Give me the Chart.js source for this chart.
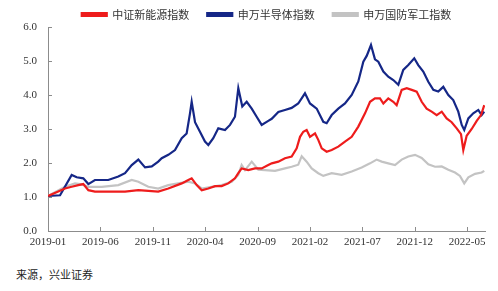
<!DOCTYPE html>
<html lang="zh">
<head>
<meta charset="UTF-8">
<title>指数走势</title>
<script src="https://cdn.jsdelivr.net/npm/chart.js"></script>
<style>
  body { margin: 0; background: #fff; }
  #wrap { position: absolute; left: 0; top: 0; width: 498px; height: 262px; }
  #source { position: absolute; left: 16px; top: 266px; font: 11px "Noto Sans CJK SC", sans-serif; color: #222; }
</style>
</head>
<body>
<div id="wrap"><canvas id="myChart" width="498" height="262"></canvas></div>
<div id="source">来源，兴业证券</div>
<script>
// x = months since 2019-01
var seriesNames = ['中证新能源指数', '申万半导体指数', '申万国防军工指数'];

var xNew = [0, 0.98, 1.62, 2.26, 2.89, 3.37, 3.85, 4.48, 6.08, 7.35, 8.62, 10.52, 11.48, 12.76, 13.39, 13.71, 14.19, 14.67, 15.3, 15.94, 16.57, 17.2, 17.84, 18.16, 18.48, 19.11, 19.75, 20.39, 21.02, 21.35, 21.98, 22.61, 23.25, 23.73, 24.05, 24.36, 24.68, 25.0, 25.48, 25.79, 26.12, 26.59, 27.07, 27.7, 28.34, 28.98, 29.61, 30.25, 30.73, 31.2, 31.68, 32.0, 32.47, 32.95, 33.27, 33.75, 34.23, 34.71, 35.18, 35.66, 36.13, 36.61, 37.09, 37.57, 38.04, 38.52, 39.0, 39.41, 39.63, 39.95, 40.43, 40.91, 41.32, 41.63];
var yNew = [1.03, 1.16, 1.25, 1.3, 1.35, 1.38, 1.2, 1.16, 1.16, 1.16, 1.2, 1.16, 1.25, 1.4, 1.5, 1.55, 1.35, 1.2, 1.25, 1.32, 1.32, 1.4, 1.55, 1.7, 1.84, 1.79, 1.84, 1.84, 1.94, 1.99, 2.04, 2.14, 2.19, 2.43, 2.77, 2.92, 2.97, 2.77, 2.87, 2.68, 2.43, 2.33, 2.38, 2.48, 2.63, 2.77, 3.07, 3.46, 3.8, 3.9, 3.9, 3.75, 3.9, 3.8, 3.7, 4.15, 4.2, 4.15, 4.1, 3.8, 3.6, 3.51, 3.41, 3.51, 3.31, 3.2, 3.02, 2.85, 2.38, 2.8, 3.0, 3.24, 3.41, 3.7];

var xSemi = [0, 1.15, 2.26, 2.74, 3.37, 3.85, 4.48, 5.75, 6.71, 7.35, 7.99, 8.62, 9.26, 9.9, 10.52, 10.85, 11.48, 12.12, 12.76, 13.23, 13.55, 13.71, 14.03, 14.5, 14.98, 15.3, 15.77, 16.25, 16.89, 17.37, 17.84, 18.16, 18.54, 18.96, 19.44, 19.91, 20.39, 21.02, 21.35, 21.98, 22.61, 23.25, 23.88, 24.52, 25.0, 25.64, 26.27, 26.59, 27.07, 27.7, 28.34, 28.98, 29.61, 30.09, 30.41, 30.82, 31.2, 31.52, 32.0, 32.47, 32.95, 33.43, 33.9, 34.38, 34.95, 35.33, 35.81, 36.29, 36.77, 37.24, 37.72, 38.2, 38.67, 39.15, 39.48, 39.72, 40.11, 40.58, 41.06, 41.38, 41.63];
var ySemi = [1.03, 1.05, 1.65, 1.58, 1.55, 1.38, 1.5, 1.5, 1.6, 1.7, 1.94, 2.1, 1.87, 1.9, 2.04, 2.14, 2.24, 2.38, 2.73, 2.87, 3.46, 3.8, 3.2, 2.92, 2.63, 2.53, 2.73, 3.02, 2.97, 3.12, 3.36, 4.2, 3.66, 3.8, 3.6, 3.36, 3.12, 3.24, 3.3, 3.5, 3.56, 3.62, 3.75, 4.05, 3.75, 3.6, 3.21, 3.17, 3.41, 3.6, 3.75, 4.0, 4.4, 4.98, 5.15, 5.47, 5.05, 4.98, 4.69, 4.54, 4.44, 4.3, 4.74, 4.88, 5.08, 4.88, 4.69, 4.39, 4.15, 4.1, 4.24, 4.0, 3.85, 3.51, 3.12, 2.97, 3.31, 3.46, 3.56, 3.41, 3.51];

var xDef = [0, 1.62, 2.58, 3.22, 3.85, 5.12, 6.71, 7.99, 8.62, 9.57, 10.52, 11.48, 12.43, 13.39, 14.03, 14.67, 15.62, 16.57, 17.53, 18.16, 18.48, 18.8, 19.44, 20.07, 20.71, 21.66, 22.61, 23.25, 23.88, 24.21, 24.68, 25.16, 25.79, 26.27, 27.07, 28.02, 28.98, 29.93, 30.73, 31.36, 31.84, 32.47, 33.11, 33.75, 34.38, 35.02, 35.66, 36.29, 36.93, 37.57, 38.2, 38.84, 39.31, 39.72, 40.11, 40.75, 41.38, 41.63];
var yDef = [1.03, 1.3, 1.4, 1.37, 1.3, 1.3, 1.35, 1.5, 1.45, 1.3, 1.25, 1.35, 1.4, 1.45, 1.4, 1.25, 1.3, 1.35, 1.45, 1.65, 1.94, 1.79, 2.04, 1.8, 1.79, 1.77, 1.84, 1.89, 1.95, 2.2, 2.04, 1.84, 1.7, 1.62, 1.7, 1.65, 1.75, 1.87, 1.99, 2.1, 2.04, 1.99, 1.94, 2.1, 2.19, 2.24, 2.15, 1.96, 1.89, 1.9, 1.8, 1.72, 1.62, 1.4, 1.58, 1.68, 1.72, 1.77];

var xTicks = [0, 5, 10, 15, 20, 25, 30, 35, 40];
var yTicks = [0, 1, 2, 3, 4, 5, 6];

function pts(xs, ys) {
    return xs.map(function (x, i) { return { x: x, y: ys[i] }; });
}
function monthLabel(m) {
    var y = 2019 + Math.floor(m / 12);
    var mo = (m % 12) + 1;
    return y + '-' + (mo < 10 ? '0' + mo : mo);
}

var axisColor = '#8c8c8c';
var tickFont = { family: '"Liberation Serif", serif', size: 11 };

// legend sits tighter above the plot than Chart.js would place it
var shrinkLegend = {
    id: 'shrinkLegend',
    beforeInit: function (chart) {
        var fit = chart.legend.fit;
        chart.legend.fit = function () {
            fit.call(this);
            this.height -= 3;
        };
    }
};

// short tick marks pointing into the plot
var innerTicks = {
    id: 'innerTicks',
    afterDraw: function (chart) {
        var ctx = chart.ctx, a = chart.chartArea;
        var sx = chart.scales.x, sy = chart.scales.y;
        ctx.save();
        ctx.strokeStyle = axisColor;
        ctx.lineWidth = 1;
        ctx.beginPath();
        sx.ticks.forEach(function (t) {
            var px = Math.round(sx.getPixelForValue(t.value)) + 0.5;
            ctx.moveTo(px, a.bottom);
            ctx.lineTo(px, a.bottom - 4);
        });
        sy.ticks.forEach(function (t) {
            var py = Math.round(sy.getPixelForValue(t.value)) + 0.5;
            ctx.moveTo(a.left, py);
            ctx.lineTo(a.left + 4, py);
        });
        ctx.stroke();
        ctx.restore();
    }
};

new Chart(document.getElementById('myChart'), {
    type: 'line',
    data: {
        datasets: [
            { label: seriesNames[0], data: pts(xNew, yNew), borderColor: '#ee1c1c', backgroundColor: '#ee1c1c' },
            { label: seriesNames[1], data: pts(xSemi, ySemi), borderColor: '#152787', backgroundColor: '#152787' },
            { label: seriesNames[2], data: pts(xDef, yDef), borderColor: '#c3c3c3', backgroundColor: '#c3c3c3' }
        ]
    },
    options: {
        responsive: false,
        animation: false,
        elements: { point: { radius: 0 }, line: { borderWidth: 2.2, tension: 0 } },
        layout: { padding: { left: 0, right: 13, top: -9, bottom: 0 } },
        plugins: {
            tooltip: { enabled: false },
            legend: {
                position: 'top',
                fullSize: false,
                labels: {
                    boxWidth: 25, boxHeight: 3, padding: 18, color: '#333',
                    font: { family: '"Noto Sans CJK SC", sans-serif', size: 11 }
                }
            }
        },
        scales: {
            x: {
                type: 'linear', min: 0, max: 41.7,
                afterBuildTicks: function (s) { s.ticks = xTicks.map(function (v) { return { value: v }; }); },
                afterFit: function (s) { s.height = 31; },
                ticks: { color: '#333', font: tickFont, autoSkip: false, maxRotation: 0, padding: 5,
                    callback: function (v) { return monthLabel(v); } },
                grid: { drawOnChartArea: false, drawTicks: false, tickLength: 0 },
                border: { color: axisColor }
            },
            y: {
                min: 0, max: 6,
                afterBuildTicks: function (s) { s.ticks = yTicks.map(function (v) { return { value: v }; }); },
                afterFit: function (s) { s.width = 48; },
                ticks: { color: '#333', font: tickFont, padding: 11,
                    callback: function (v) { return v.toFixed(1); } },
                grid: { drawOnChartArea: false, drawTicks: false, tickLength: 0 },
                border: { color: axisColor }
            }
        }
    },
    plugins: [shrinkLegend, innerTicks]
});
</script>
</body>
</html>
